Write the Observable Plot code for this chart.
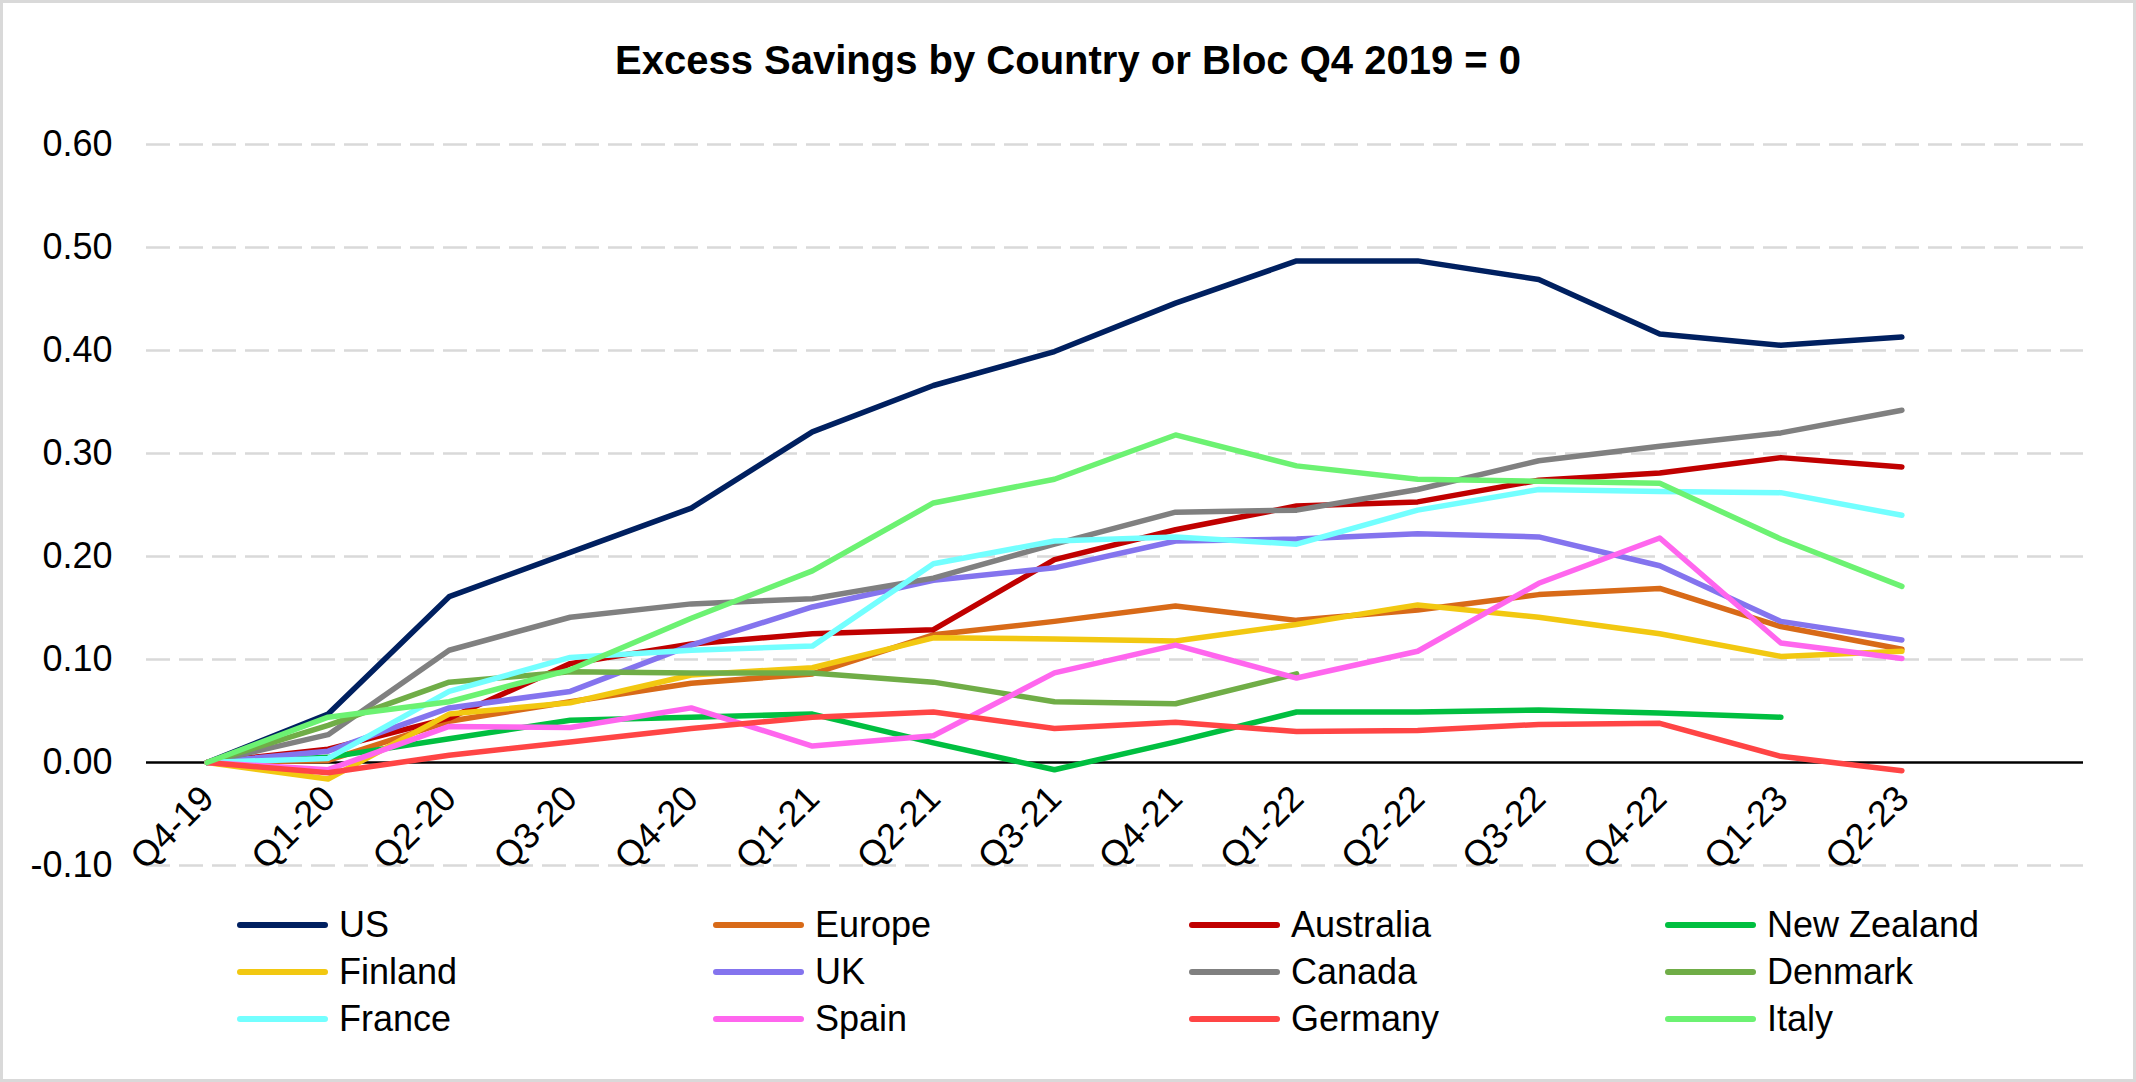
<!DOCTYPE html>
<html>
<head>
<meta charset="utf-8">
<script src="https://cdn.jsdelivr.net/npm/d3@7"></script>
<script src="https://cdn.jsdelivr.net/npm/@observablehq/plot@0.6"></script>
<style>
  html, body { margin: 0; padding: 0; background: #fff; }
  #wrap { position: relative; width: 2136px; height: 1082px; overflow: hidden; background: #fff;
          font-family: "Liberation Sans", Arial, sans-serif; color: #000; }
  #border { position: absolute; left: 0; top: 0; width: 2136px; height: 1082px; box-sizing: border-box;
            border: 3px solid #d9d9d9; pointer-events: none; }
  #title { position: absolute; left: 0; top: 40px; width: 2136px; text-align: center;
           font-weight: bold; font-size: 40px; line-height: 40px; }
  #chart { position: absolute; left: 0; top: 0; }
  .item { position: absolute; height: 40px; display: flex; align-items: center; font-size: 36px; line-height: 40px; white-space: nowrap; }
  .swatch { width: 91px; height: 6px; border-radius: 3px; margin-right: 11px; }
</style>
</head>
<body>
<div id="wrap">
  <div id="title">Excess Savings by Country or Bloc Q4 2019 = 0</div>
  <div id="chart"></div>
  <div id="legend"></div>
  <div id="border"></div>
</div>
<script>
// ---- data ----
const quarters = ["Q4-19","Q1-20","Q2-20","Q3-20","Q4-20","Q1-21","Q2-21","Q3-21","Q4-21","Q1-22","Q2-22","Q3-22","Q4-22","Q1-23","Q2-23"];
const seriesNames = ["US","Europe","Australia","New Zealand","Finland","UK","Canada","Denmark","France","Spain","Germany","Italy"];
const seriesColors = ["#002060","#D86A18","#C00000","#00BF40","#F2C811","#8474EE","#808080","#70AD47","#73FFFF","#FF66EE","#FF4545","#6CF272"];

const us          = [0, 0.047, 0.161, 0.204, 0.247, 0.321, 0.366, 0.399, 0.446, 0.487, 0.487, 0.469, 0.416, 0.405, 0.413];
const europe      = [0, 0.002, 0.040, 0.059, 0.077, 0.086, 0.124, 0.137, 0.152, 0.138, 0.148, 0.163, 0.169, 0.132, 0.110];
const australia   = [0, 0.013, 0.043, 0.096, 0.115, 0.125, 0.129, 0.197, 0.226, 0.249, 0.253, 0.274, 0.281, 0.296, 0.287];
const newZealand  = [0, 0.005, 0.023, 0.041, 0.044, 0.047, 0.019, -0.007, 0.020, 0.049, 0.049, 0.051, 0.048, 0.044, null];
const finland     = [0, -0.016, 0.047, 0.058, 0.085, 0.092, 0.121, 0.120, 0.118, 0.134, 0.153, 0.141, 0.125, 0.103, 0.108];
const uk          = [0, 0.011, 0.053, 0.069, 0.114, 0.151, 0.177, 0.189, 0.215, 0.217, 0.222, 0.219, 0.191, 0.137, 0.119];
const canada      = [0, 0.027, 0.109, 0.141, 0.154, 0.159, 0.179, 0.212, 0.243, 0.245, 0.265, 0.293, 0.307, 0.320, 0.342];
const denmark     = [0, 0.036, 0.078, 0.088, 0.087, 0.087, 0.078, 0.059, 0.057, 0.086, null, null, null, null, null];
const france      = [0, 0.004, 0.069, 0.102, 0.109, 0.113, 0.193, 0.215, 0.219, 0.212, 0.245, 0.265, 0.263, 0.262, 0.240];
const spain       = [0, -0.007, 0.035, 0.034, 0.053, 0.016, 0.026, 0.087, 0.114, 0.082, 0.108, 0.174, 0.218, 0.116, 0.101];
const germany     = [0, -0.010, 0.007, 0.020, 0.033, 0.044, 0.049, 0.033, 0.039, 0.030, 0.031, 0.037, 0.038, 0.006, -0.008];
const italy       = [0, 0.044, 0.059, 0.090, 0.140, 0.186, 0.252, 0.275, 0.318, 0.288, 0.275, 0.273, 0.271, 0.217, 0.171];

const yTicks = [-0.1, 0, 0.1, 0.2, 0.3, 0.4, 0.5, 0.6];
const gridValues = [-0.1, 0.1, 0.2, 0.3, 0.4, 0.5, 0.6];

// ---- build table ----
const seriesValues = [us, europe, australia, newZealand, finland, uk, canada, denmark, france, spain, germany, italy];
const rows = [];
seriesNames.forEach((name, k) => {
  seriesValues[k].forEach((v, i) => { if (v != null) rows.push({name, i, v}); });
});
const labelRows = quarters.map((q, i) => ({q, i, v: 0}));

const chart = Plot.plot({
  width: 2136,
  height: 900,
  marginLeft: 146,
  marginRight: 53,
  marginTop: 144,
  marginBottom: 35,
  style: {fontFamily: '"Liberation Sans", Arial, sans-serif', fontSize: "36px", color: "#000", background: "transparent"},
  x: {type: "linear", domain: [-0.5, 15.5], axis: null},
  y: {domain: [-0.1, 0.6], axis: null},
  color: {domain: seriesNames, range: seriesColors},
  marks: [
    Plot.ruleY(gridValues, {stroke: "#d9d9d9", strokeWidth: 2.5, strokeDasharray: "24,9"}),
    Plot.ruleY([0], {stroke: "#000", strokeWidth: 2.5}),
    Plot.axisY({ticks: yTicks, tickFormat: d => d.toFixed(2), tickSize: 0, tickPadding: 34, fontSize: 36, label: null}),
    Plot.line(rows, {x: "i", y: "v", z: "name", stroke: "name", strokeWidth: 5.5,
                     strokeLinejoin: "round", strokeLinecap: "round"}),
    Plot.text(labelRows, {x: "i", y: "v", text: "q", rotate: -45, textAnchor: "end", lineAnchor: "bottom",
                          dx: 9, dy: 38, fontSize: 36, fill: "#000"})
  ]
});
document.getElementById("chart").appendChild(chart);

// ---- legend ----
const legend = document.getElementById("legend");
const colX = [237, 713, 1189, 1665];
const rowY = [925, 972, 1019];
seriesNames.forEach((name, k) => {
  const c = k % 4, r = Math.floor(k / 4);
  const item = document.createElement("div");
  item.className = "item";
  item.style.left = colX[c] + "px";
  item.style.top = (rowY[r] - 20) + "px";
  const sw = document.createElement("div");
  sw.className = "swatch";
  sw.style.background = seriesColors[k];
  const lab = document.createElement("span");
  lab.textContent = name;
  item.appendChild(sw);
  item.appendChild(lab);
  legend.appendChild(item);
});
</script>
</body>
</html>
